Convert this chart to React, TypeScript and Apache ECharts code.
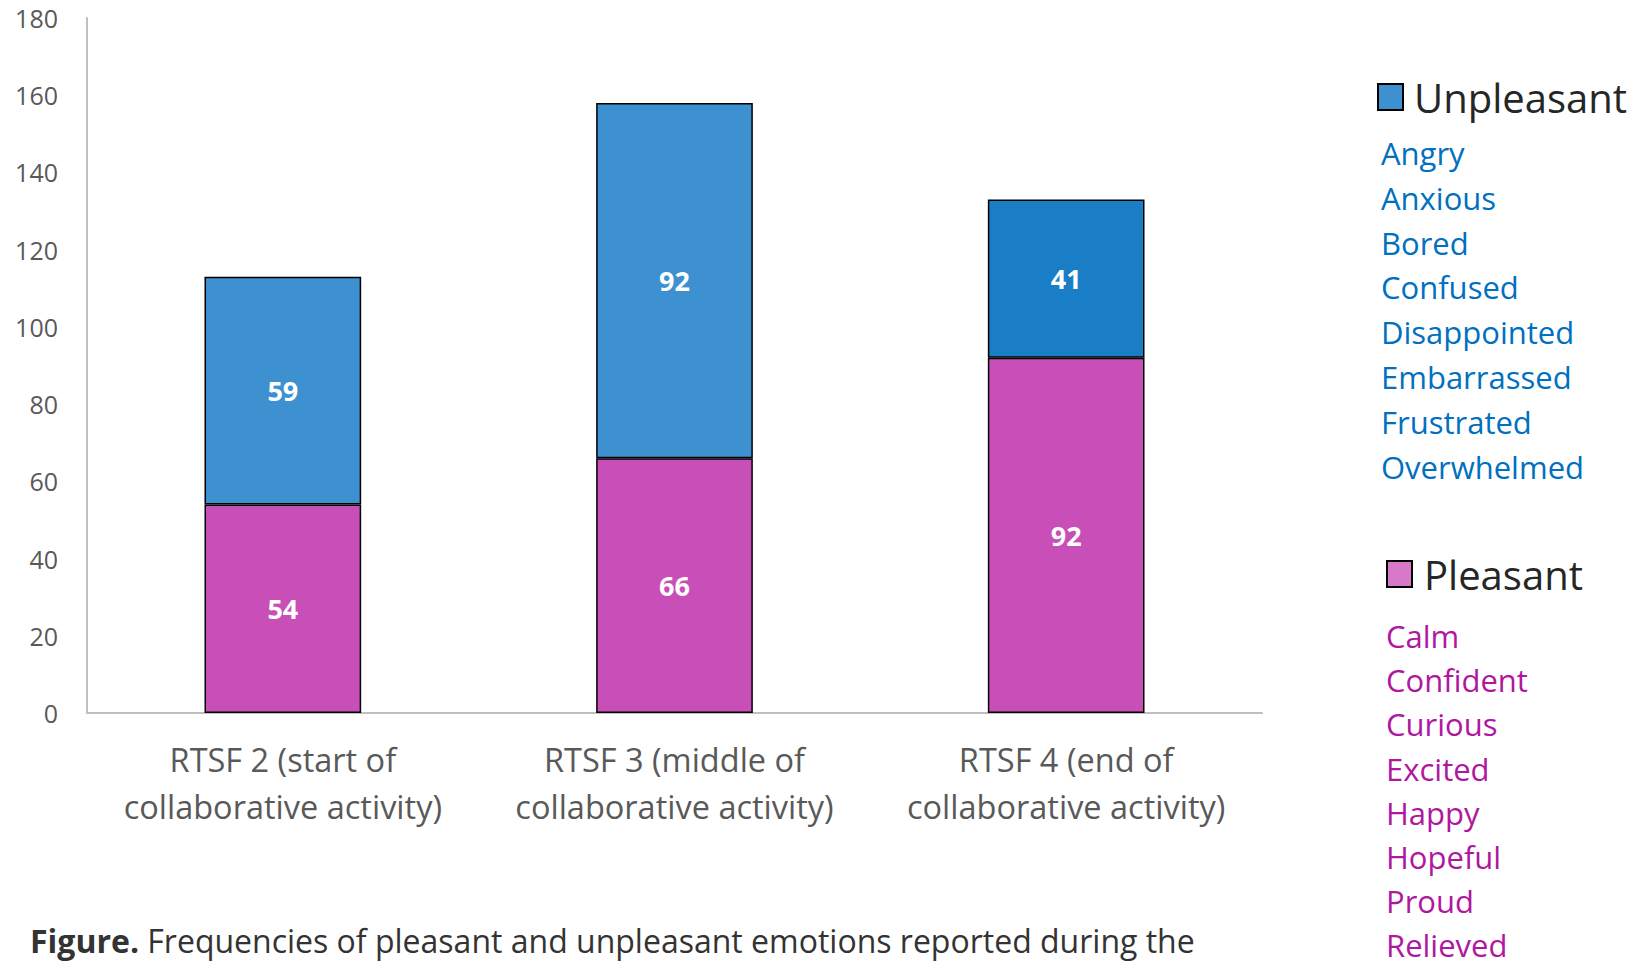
import React, { useEffect, useRef } from "react";
import * as echarts from "echarts";

const categories = [
  "RTSF 2 (start of\ncollaborative activity)",
  "RTSF 3 (middle of\ncollaborative activity)",
  "RTSF 4 (end of\ncollaborative activity)",
];
const pleasantValues = [54, 66, 92];
const unpleasantValues = [59, 92, 41];
const unpleasantEmotions = ["Angry", "Anxious", "Bored", "Confused", "Disappointed", "Embarrassed", "Frustrated", "Overwhelmed"];
const pleasantEmotions = ["Calm", "Confident", "Curious", "Excited", "Happy", "Hopeful", "Proud", "Relieved"];
const captionText = "Frequencies of pleasant and unpleasant emotions reported during the";

const FONT = "'Open Sans', sans-serif";
const PINK = "#c84fb8";
const BLUE = "#3d91d0";
const BLUE_DARK = "#1a7ec6";

export default function App() {
  const ref = useRef<HTMLDivElement>(null);
  useEffect(() => {
    if (!ref.current) return;
    const chart = echarts.init(ref.current, null, { renderer: "svg" });
    const listText = (items: string[], x: number, y0: number, step: number, color: string) =>
      items.map((t, i) => ({
        type: "text",
        x,
        y: y0 + i * step,
        style: { text: t, fill: color, fontSize: 31, lineHeight: 28, fontFamily: FONT, verticalAlign: "middle", align: "left" },
      }));
    chart.setOption({
      animation: false,
      backgroundColor: "#ffffff",
      grid: { left: 87, right: 372, top: 18, bottom: 252, containLabel: false },
      xAxis: {
        type: "category",
        data: categories,
        axisLine: { lineStyle: { color: "#bfbfbf", width: 2 } },
        axisTick: { show: false },
        axisLabel: { color: "#595959", fontSize: 32.5, fontFamily: FONT, lineHeight: 47, margin: 23, interval: 0 },
      },
      yAxis: {
        type: "value",
        min: 0,
        max: 180,
        interval: 20,
        splitLine: { show: false },
        axisLine: { show: true, lineStyle: { color: "#bfbfbf", width: 2 } },
        axisTick: { show: false },
        axisLabel: { color: "#595959", fontSize: 25, fontFamily: FONT, margin: 29 },
      },
      legend: [
        {
          data: ["Unpleasant"],
          left: 1377,
          top: 77,
          padding: 0,
          icon: "rect",
          itemWidth: 25,
          itemHeight: 26,
          itemGap: 10,
          textStyle: { fontSize: 40, fontFamily: FONT, color: "#262626", padding: [0, 0, 0, 6] },
          itemStyle: { borderColor: "#000", borderWidth: 2 },
        },
        {
          data: ["Pleasant"],
          left: 1386,
          top: 554,
          padding: 0,
          icon: "rect",
          itemWidth: 25,
          itemHeight: 26,
          textStyle: { fontSize: 40, fontFamily: FONT, color: "#262626", padding: [0, 0, 0, 7] },
          itemStyle: { color: "#d878c8", borderColor: "#000", borderWidth: 2 },
        },
      ],
      series: [
        {
          name: "Pleasant",
          type: "bar",
          stack: "total",
          barWidth: "40%",
          data: pleasantValues,
          itemStyle: { color: PINK, borderColor: "#000", borderWidth: 1.5 },
          label: { show: true, position: "inside", color: "#ffffff", fontWeight: "bold", fontSize: 27, fontFamily: FONT },
        },
        {
          name: "Unpleasant",
          type: "bar",
          stack: "total",
          barWidth: "40%",
          data: unpleasantValues.map((v, i) => (i === 2 ? { value: v, itemStyle: { color: BLUE_DARK } } : v)),
          itemStyle: { color: BLUE, borderColor: "#000", borderWidth: 1.5 },
          label: { show: true, position: "inside", color: "#ffffff", fontWeight: "bold", fontSize: 27, fontFamily: FONT },
        },
      ],
      graphic: [
        ...listText(unpleasantEmotions, 1381, 153, 44.8, "#0070c0"),
        ...listText(pleasantEmotions, 1386, 636, 44.2, "#b0179f"),
        {
          type: "text",
          x: 30,
          y: 940,
          style: {
            text: "{b|Figure.} " + captionText,
            fill: "#333333",
            fontSize: 32,
            fontFamily: FONT,
            verticalAlign: "middle",
            rich: { b: { fontWeight: "bold", fontSize: 32, fontFamily: FONT, fill: "#333333" } },
          },
        },
      ],
    });
    return () => chart.dispose();
  }, []);
  return <div ref={ref} style={{ position: "fixed", left: 0, top: 0, width: 1634, height: 965 }} />;
}
